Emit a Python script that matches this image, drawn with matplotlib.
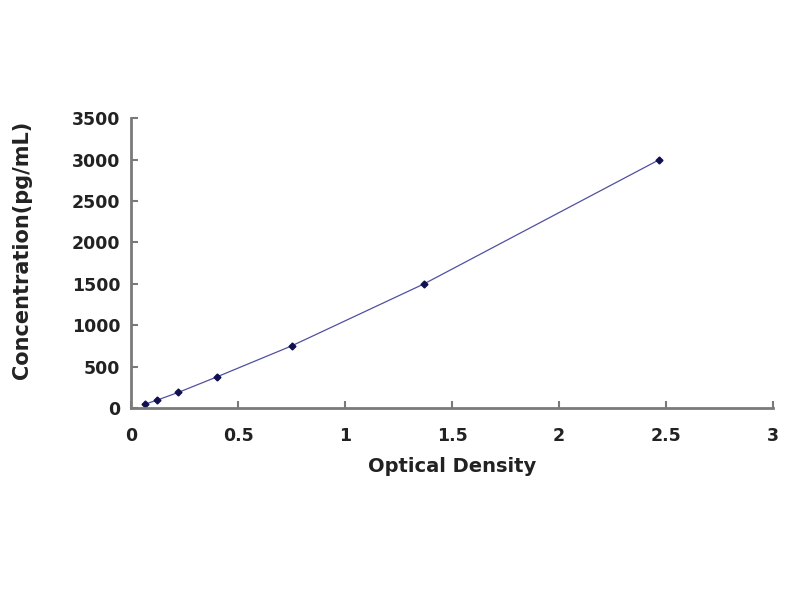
import matplotlib
matplotlib.use("Agg")
import matplotlib.pyplot as plt

od = [0.065, 0.12, 0.22, 0.40, 0.75, 1.37, 2.47]
conc = [47, 94, 188, 375, 750, 1500, 3000]
xticks = [0, 0.5, 1, 1.5, 2, 2.5, 3]
yticks = [0, 500, 1000, 1500, 2000, 2500, 3000, 3500]

plt.rcParams['font.family'] = ['DejaVu Sans']
fig = plt.figure(figsize=(8, 6), dpi=100)
ax = fig.add_axes([0.164, 0.32, 0.802, 0.483])

ax.plot(od, conc, color='#5050a0', lw=0.9, marker='D', markersize=3.5,
        markerfacecolor='#101050', markeredgecolor='#101050')

ax.set_xlim(0, 3)
ax.set_ylim(0, 3500)
ax.set_xticks(xticks)
ax.set_xticklabels(['0', '0.5', '1', '1.5', '2', '2.5', '3'])
ax.set_yticks(yticks)
ax.set_yticklabels([str(v) for v in yticks])

for s in ['top', 'right']:
    ax.spines[s].set_visible(False)
for s in ['left', 'bottom']:
    ax.spines[s].set_color('#7a7a7a')
    ax.spines[s].set_linewidth(2)

ax.tick_params(direction='in', length=5, width=1.5, color='#7a7a7a',
               labelsize=12.5, labelcolor='#222222')
ax.tick_params(axis='x', pad=14)
ax.tick_params(axis='y', pad=8)
for lbl in ax.get_xticklabels() + ax.get_yticklabels():
    lbl.set_fontweight('bold')

ax.set_xlabel('Optical Density', fontsize=14, fontweight='bold', color='#222222', labelpad=8)
ax.set_ylabel('Concentration(pg/mL)', fontsize=15, fontweight='bold', color='#222222')
ax.yaxis.set_label_coords(-0.155, 0.545)

fig.savefig('out.png', dpi=100, facecolor='white')
